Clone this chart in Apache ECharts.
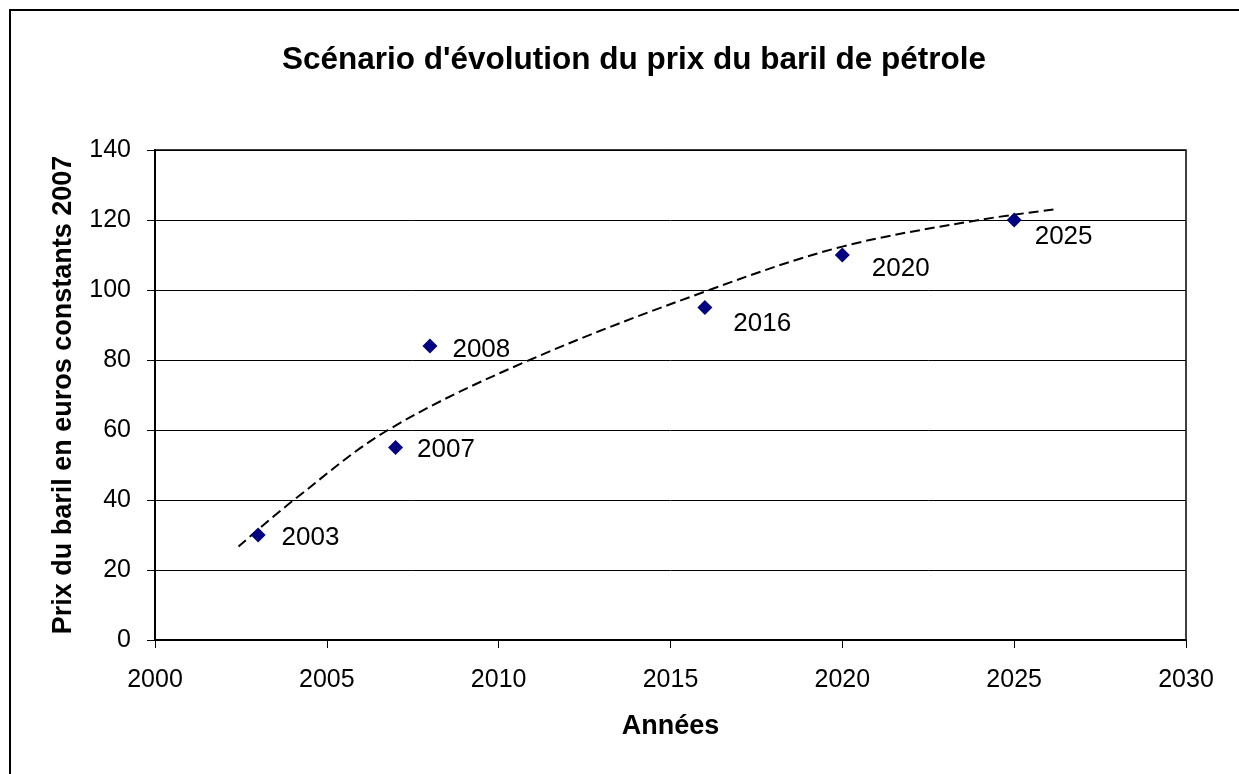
<!DOCTYPE html>
<html>
<head>
<meta charset="utf-8">
<script src="https://cdn.jsdelivr.net/npm/echarts@6/dist/echarts.min.js"></script>
<style>html,body{margin:0;padding:0;background:#fff;}#c{width:1239px;height:774px;}</style>
</head>
<body>
<div id="c"></div>
<script>
// Data points (year, price in constant 2007 euros)
const years = [2003, 2007, 2008, 2016, 2020, 2025];
const prices = [30, 55, 84, 95, 110, 120];
const pointLabels = ['2003', '2007', '2008', '2016', '2020', '2025'];
// Trendline
const trendYears = [2002.43, 2004.04, 2006.78, 2010.9, 2016.13, 2020, 2023.98, 2026.19];
const trendValues = [26.7, 40, 60, 80, 100, 112.4, 120, 123.05];
const xTicks = [2000, 2005, 2010, 2015, 2020, 2025, 2030];
const yTicks = [0, 20, 40, 60, 80, 100, 120, 140];

const titleText = "Scénario d'évolution du prix du baril de pétrole";
const yTitle = 'Prix du baril en euros constants 2007';
const xTitle = 'Années';

const FONT = '"Liberation Sans", Arial, sans-serif';
const labelOffsets = [[16, 3], [14, 2], [15, 4], [21, 16], [22, 14], [13, 17]];

const chart = echarts.init(document.getElementById('c'), null, {renderer: 'canvas'});
chart.setOption({
  animation: false,
  backgroundColor: '#ffffff',
  graphic: [
    {type: 'rect', shape: {x: 10, y: 10, width: 1240, height: 780}, style: {fill: 'none', stroke: '#000', lineWidth: 2}, silent: true, z: 100},
    {type: 'text', x: 634, y: 60, style: {text: titleText, font: 'bold 31.5px ' + FONT, fill: '#000', textAlign: 'center', textVerticalAlign: 'middle'}}
  ],
  grid: {left: 155, top: 150, right: 53, bottom: 134, show: true, borderColor: '#000', borderWidth: 1.5, backgroundColor: 'transparent'},
  xAxis: {
    type: 'value', min: xTicks[0], max: xTicks[xTicks.length - 1], interval: 5,
    name: xTitle, nameLocation: 'middle', nameGap: 73,
    nameTextStyle: {fontFamily: FONT, fontSize: 27, fontWeight: 'bold', color: '#000'},
    axisLine: {show: true, lineStyle: {color: '#000', width: 2}},
    axisTick: {show: true, length: 8, lineStyle: {color: '#000', width: 1}},
    axisLabel: {fontFamily: FONT, fontSize: 25, color: '#000', margin: 28, formatter: v => String(v)},
    splitLine: {show: false}
  },
  yAxis: {
    type: 'value', min: yTicks[0], max: yTicks[yTicks.length - 1], interval: 20,
    name: yTitle, nameLocation: 'middle', nameGap: 78, nameRotate: 90,
    nameTextStyle: {fontFamily: FONT, fontSize: 27, fontWeight: 'bold', color: '#000'},
    axisLine: {show: true, lineStyle: {color: '#000', width: 2}},
    axisTick: {show: true, length: 8, lineStyle: {color: '#000', width: 1}},
    axisLabel: {fontFamily: FONT, fontSize: 25, color: '#000', margin: 24, formatter: v => String(v)},
    splitLine: {show: true, lineStyle: {color: '#000', width: 1}}
  },
  series: [
    {
      type: 'line', name: 'trend', smooth: 0.35, showSymbol: false, symbol: 'none',
      data: trendYears.map((x, i) => [x, trendValues[i]]),
      lineStyle: {color: '#000', width: 2, type: [10, 5]},
      z: 2
    },
    {
      type: 'scatter', name: 'prix', symbol: 'diamond', symbolSize: 15,
      itemStyle: {color: '#000080', opacity: 1},
      data: years.map((x, i) => ({
        value: [x, prices[i]],
        label: {show: true, formatter: pointLabels[i], position: 'right', distance: 0, offset: labelOffsets[i],
          fontFamily: FONT, fontSize: 26, color: '#000'}
      })),
      z: 3
    }
  ]
});
</script>
</body>
</html>
